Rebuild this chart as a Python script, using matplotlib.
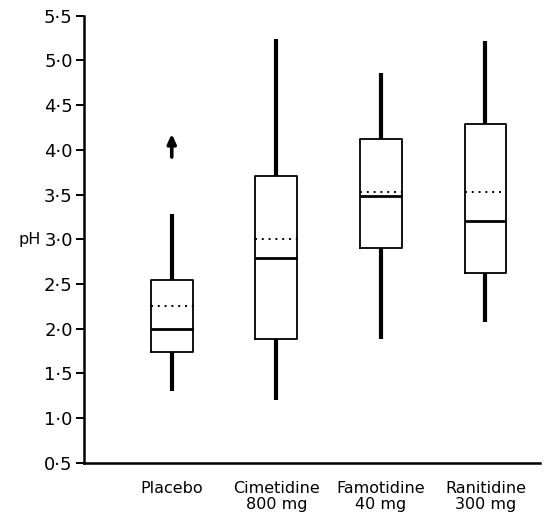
import matplotlib
matplotlib.use("Agg")
import matplotlib.pyplot as plt
from matplotlib.ticker import FuncFormatter

# groups and box statistics (pH)
groups = ["Placebo", "Cimetidine\n800 mg", "Famotidine\n40 mg", "Ranitidine\n300 mg"]
whis_lo = [1.30, 1.20, 1.89, 2.08]
q1 = [1.74, 1.89, 2.90, 2.62]
median = [2.00, 2.79, 3.49, 3.20]
mean = [2.26, 3.00, 3.53, 3.53]
q3 = [2.55, 3.71, 4.12, 4.29]
whis_hi = [3.28, 5.24, 4.86, 5.22]
# outlier arrow for placebo (value off the top)
arrow_from = 3.92
arrow_to = 4.18

fig = plt.figure(figsize=(5.52, 5.26), dpi=100)
ax = fig.add_axes([0.152, 0.12, 0.826, 0.85])

stats = []
for i in range(len(groups)):
    stats.append({
        "whislo": whis_lo[i], "q1": q1[i], "med": median[i],
        "q3": q3[i], "whishi": whis_hi[i], "mean": mean[i],
    })

positions = [1, 2, 3, 4]
ax.bxp(stats, positions=positions, widths=0.40, showfliers=False,
       showcaps=False, showmeans=True, meanline=True,
       boxprops=dict(color="black", linewidth=1.3),
       whiskerprops=dict(color="black", linewidth=3.0, solid_capstyle="butt"),
       medianprops=dict(color="black", linewidth=2.0),
       meanprops=dict(color="black", linewidth=1.4, linestyle=(0, (1, 2.5))))

ax.annotate("", xy=(1, arrow_to), xytext=(1, arrow_from),
            arrowprops=dict(arrowstyle="-|>,head_width=0.25,head_length=0.55",
                            color="black", lw=2.6, shrinkA=0, shrinkB=0))

ax.set_xlim(0.16, 4.52)
ax.set_ylim(0.5, 5.5)
ax.set_yticks([0.5, 1.0, 1.5, 2.0, 2.5, 3.0, 3.5, 4.0, 4.5, 5.0, 5.5])
ax.yaxis.set_major_formatter(FuncFormatter(lambda v, p: ("%.1f" % v).replace(".", "\u00b7")))
ax.set_xticks(positions)
ax.set_xticklabels(groups, fontsize=11.5, linespacing=1.1)
ax.tick_params(axis="x", length=0, pad=13)
ax.tick_params(axis="y", length=6, width=1.4, labelsize=13, pad=2)

ax.spines["top"].set_visible(False)
ax.spines["right"].set_visible(False)
ax.spines["left"].set_linewidth(1.8)
ax.spines["bottom"].set_linewidth(1.8)

ax.set_ylabel("pH", rotation=0, fontsize=11.5, ha="center", va="center")
ax.yaxis.set_label_coords(-0.12, 0.5)

fig.savefig("out.png", dpi=100)
